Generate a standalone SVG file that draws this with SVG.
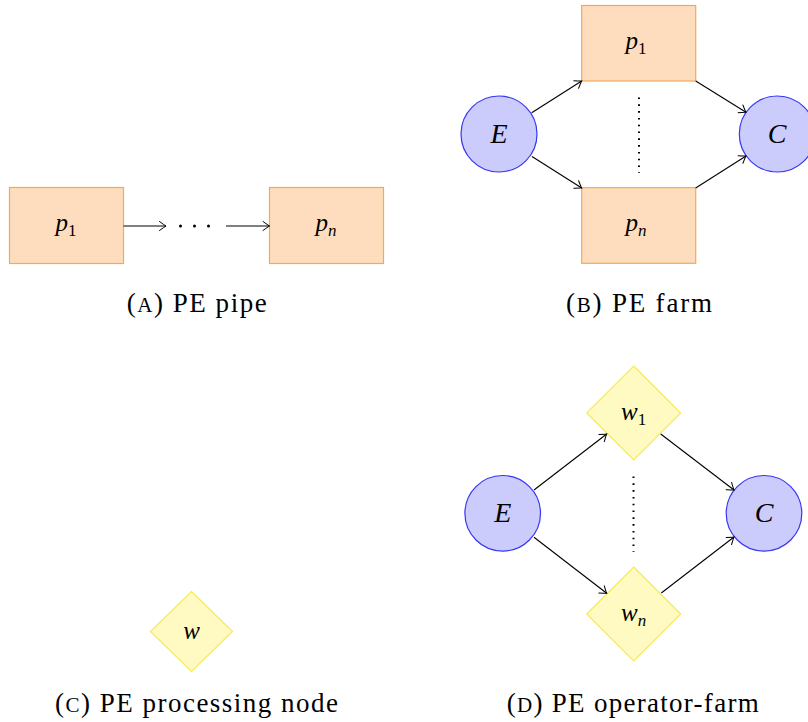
<svg xmlns="http://www.w3.org/2000/svg" width="808" height="722" viewBox="0 0 808 722">
<defs>
<marker id="arr" markerUnits="userSpaceOnUse" markerWidth="12" markerHeight="12" refX="0" refY="0" viewBox="-8 -6 10 12" orient="auto" overflow="visible">
<path d="M -6.5 -4.5 Q -1.5 -0.8 0 0 Q -1.5 0.8 -6.5 4.5" fill="none" stroke="#000" stroke-width="1" stroke-linecap="round"/>
</marker>
<style>
.rect{fill:#FDDDBE;stroke:#F5A955;stroke-width:1.2}
.circ{fill:#CBCBFC;stroke:#3535F5;stroke-width:1.2}
.dia{fill:#FFFAC2;stroke:#F7EA5C;stroke-width:1.2}
.edge{fill:none;stroke:#000;stroke-width:1.1;marker-end:url(#arr)}
.dots{fill:none;stroke:#000;stroke-width:2;stroke-dasharray:1.6 5.2}
</style>
</defs>
<g font-family="'Liberation Serif', 'Times New Roman', serif" fill="#000">
<!-- Panel A -->
<g id="a-p1"><rect class="rect" x="9.5" y="187.5" width="114" height="76"/><text x="66" y="230.5" font-style="italic" font-size="25" text-anchor="middle">p<tspan font-style="normal" font-size="17" dy="5">1</tspan></text></g>
<g id="a-pn"><rect class="rect" x="269.5" y="187.5" width="114" height="76"/><text x="326" y="230.5" font-style="italic" font-size="25" text-anchor="middle">p<tspan font-size="17" dy="5">n</tspan></text></g>
<g id="a-dots"><circle cx="180.5" cy="226" r="1.5"/><circle cx="194.5" cy="226" r="1.5"/><circle cx="208.5" cy="226" r="1.5"/></g>
<text x="126.7" y="312" font-size="27" textLength="140" lengthAdjust="spacing">(<tspan font-size="21">A</tspan>) PE pipe</text>

<!-- Panel B -->
<g id="b-E"><circle class="circ" cx="499" cy="134" r="38"/><text x="499" y="142.5" font-style="italic" font-size="28" text-anchor="middle">E</text></g>
<g id="b-C"><circle class="circ" cx="777.3" cy="134" r="38"/><text x="777" y="142.5" font-style="italic" font-size="28" text-anchor="middle">C</text></g>
<g id="b-p1"><rect class="rect" x="581.7" y="5.5" width="114" height="75.5"/><text x="636" y="48.5" font-style="italic" font-size="25" text-anchor="middle">p<tspan font-style="normal" font-size="17" dy="5">1</tspan></text></g>
<g id="b-pn"><rect class="rect" x="581.7" y="187.7" width="114" height="75.6"/><text x="636" y="230.5" font-style="italic" font-size="25" text-anchor="middle">p<tspan font-size="17" dy="5">n</tspan></text></g>
<text x="566" y="312" font-size="27" textLength="146" lengthAdjust="spacing">(<tspan font-size="21">B</tspan>) PE farm</text>

<!-- Panel C -->
<g id="c-w"><polygon class="dia" points="191.5,591.5 232.5,631.5 191.5,671.5 150.5,631.5"/><text x="191.5" y="638.5" font-style="italic" font-size="25" text-anchor="middle">w</text></g>
<text x="55" y="712" font-size="27" textLength="283" lengthAdjust="spacing">(<tspan font-size="21">C</tspan>) PE processing node</text>

<!-- Panel D -->
<g id="d-E"><circle class="circ" cx="502.7" cy="513.3" r="37.8"/><text x="502.7" y="522" font-style="italic" font-size="28" text-anchor="middle">E</text></g>
<g id="d-C"><circle class="circ" cx="764" cy="513.3" r="37.8"/><text x="764" y="522" font-style="italic" font-size="28" text-anchor="middle">C</text></g>
<g id="d-w1"><polygon class="dia" points="633.7,366 680.7,413 633.7,460 586.7,413"/><text x="633.7" y="420" font-style="italic" font-size="25" text-anchor="middle">w<tspan font-style="normal" font-size="17" dy="5">1</tspan></text></g>
<g id="d-wn"><polygon class="dia" points="633.7,567 680.7,614 633.7,661 586.7,614"/><text x="633.7" y="621" font-style="italic" font-size="25" text-anchor="middle">w<tspan font-size="17" dy="5">n</tspan></text></g>
<text x="506.7" y="712" font-size="27" textLength="252" lengthAdjust="spacing">(<tspan font-size="21">D</tspan>) PE operator-farm</text>
</g>
<g id="connectors">
<path class="edge" d="M123.5 226 H166"/>
<path class="edge" d="M226 226 H269.5"/>
<path class="edge" d="M531.7 112.7 L581.7 81"/>
<path class="edge" d="M532 156.5 L581.7 188"/>
<path class="edge" d="M695.7 81 L746 112.3"/>
<path class="edge" d="M695.7 188 L746 156"/>
<path class="dots" d="M639 97.5 V173"/>
<path class="edge" d="M534 490 L606.7 434"/>
<path class="edge" d="M660.7 434 L734 490"/>
<path class="edge" d="M534 537.3 L606.7 593.3"/>
<path class="edge" d="M661.3 593 L734 537"/>
<path class="dots" d="M633.5 476.5 V552"/>
</g>
</svg>
